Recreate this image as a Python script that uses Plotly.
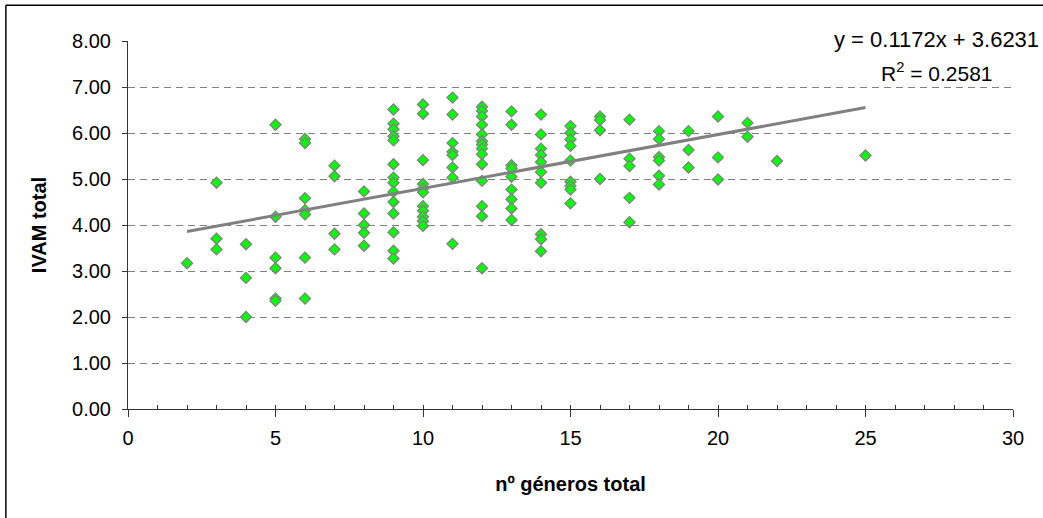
import plotly.graph_objects as go

# Number of genera per sample and the matching IVAM index
generos = (
    [2]
    + [3] * 3
    + [4] * 3
    + [5] * 6
    + [6] * 7
    + [7] * 4
    + [8] * 5
    + [9] * 14
    + [10] * 11
    + [11] * 8
    + [12] * 14
    + [13] * 9
    + [14] * 10
    + [15] * 9
    + [16] * 4
    + [17] * 5
    + [18] * 6
    + [19] * 3
    + [20] * 3
    + [21] * 2
    + [22]
    + [25]
)
ivam = [
    3.17,
    4.92, 3.70, 3.47,
    3.58, 2.85, 2.00,
    6.18, 4.18, 3.29, 3.06, 2.40, 2.35,
    5.87, 5.78, 4.58, 4.32, 4.23, 3.29, 2.40,
    5.29, 5.06, 3.81, 3.47,
    4.73, 4.25, 4.00, 3.83, 3.55,
    6.51, 6.20, 6.08, 5.93, 5.84, 5.32, 5.03, 4.92, 4.72, 4.50, 4.25, 3.84, 3.44, 3.27,
    6.62, 6.42, 5.41, 4.89, 4.79, 4.71, 4.41, 4.31, 4.18, 4.08, 3.98,
    6.77, 6.40, 5.78, 5.59, 5.52, 5.25, 5.03, 3.59,
    6.57, 6.48, 6.36, 6.18, 5.97, 5.82, 5.75, 5.66, 5.54, 5.32, 4.96, 4.41, 4.19, 3.06,
    6.47, 6.18, 5.30, 5.23, 5.05, 4.77, 4.56, 4.36, 4.11,
    6.40, 5.97, 5.66, 5.52, 5.37, 5.15, 4.92, 3.80, 3.69, 3.43,
    6.15, 6.00, 5.86, 5.72, 5.40, 4.94, 4.85, 4.77, 4.47,
    6.36, 6.28, 6.06, 5.00,
    6.29, 5.44, 5.28, 4.59, 4.06,
    6.04, 5.87, 5.48, 5.40, 5.07, 4.88,
    6.04, 5.63, 5.25,
    6.36, 5.47, 4.99,
    6.22, 5.92,
    5.39,
    5.51,
]

# Linear trend as reported on the chart
slope = 0.1172
intercept = 3.6231
r_squared = 0.2581

x_ticks = [0, 5, 10, 15, 20, 25, 30]
y_ticks = [0, 1, 2, 3, 4, 5, 6, 7, 8]
y_tick_labels = [f"{v:.2f}" for v in y_ticks]

FONT = "Liberation Sans, Arial, sans-serif"
GRAY = "#808080"

trend_x = [min(generos), max(generos)]
trend_y = [slope * v + intercept for v in trend_x]

fig = go.Figure()
fig.add_trace(go.Scatter(
    x=generos, y=ivam, mode="markers",
    marker=dict(symbol="diamond", size=8.5, color="#00FF00",
                line=dict(color=GRAY, width=1.3)),
    showlegend=False, hoverinfo="x+y",
))
fig.add_trace(go.Scatter(
    x=trend_x, y=trend_y, mode="lines", xaxis="x2",
    line=dict(color=GRAY, width=3),
    showlegend=False, hoverinfo="skip",
))

fig.update_layout(
    width=1043, height=518,
    margin=dict(l=128, r=30, t=41, b=109),
    paper_bgcolor="white", plot_bgcolor="white",
    font=dict(family=FONT, color="black", size=20),
    xaxis=dict(
        range=[0, 30], tickvals=x_ticks, ticktext=[str(v) for v in x_ticks],
        ticks="outside", ticklen=7, tickcolor="#333333", tickwidth=1,
        ticklabelstandoff=4,
        showline=True, linecolor="#333333", linewidth=1,
        showgrid=False, zeroline=False,
        tickfont=dict(size=20, family=FONT),
        title=dict(text="<b>nº géneros total</b>", font=dict(size=20, family=FONT),
                   standoff=28),
    ),
    xaxis2=dict(
        range=[0, 30], overlaying="x", anchor="y", side="bottom",
        dtick=1, tick0=0, ticks="inside", ticklen=4, tickcolor="#333333",
        showticklabels=False, showgrid=False, zeroline=False, showline=False,
    ),
    yaxis=dict(
        range=[0, 8], tickvals=y_ticks, ticktext=y_tick_labels,
        ticks="outside", ticklen=5, tickcolor="#333333", tickwidth=1,
        ticklabelstandoff=7,
        showline=True, linecolor="#333333", linewidth=1,
        showgrid=True, gridcolor=GRAY, gridwidth=1, griddash="7px,5px",
        zeroline=False,
        tickfont=dict(size=20, family=FONT),
        title=dict(text="<b>IVAM total</b>", font=dict(size=20, family=FONT),
                   standoff=20),
    ),
    annotations=[
        dict(xref="paper", yref="paper", x=0.914, y=1.003, xanchor="center",
             yanchor="middle", showarrow=False,
             text=f"y = {slope:.4f}x + {intercept:.4f}",
             font=dict(size=22, family=FONT)),
        dict(xref="paper", yref="paper", x=0.914, y=0.916, xanchor="center",
             yanchor="middle", showarrow=False,
             text=f"R<sup>2</sup> = {r_squared:.4f}",
             font=dict(size=21, family=FONT)),
    ],
    shapes=[
        # chart frame: left and top edges
        dict(type="line", xref="paper", yref="paper",
             x0=-0.138, x1=-0.138, y0=1.097, y1=-0.4,
             line=dict(color="black", width=1.5)),
        dict(type="line", xref="paper", yref="paper",
             x0=-0.138, x1=1.1, y0=1.097, y1=1.097,
             line=dict(color="black", width=1.5)),
    ],
)

fig.write_html("out.html")
